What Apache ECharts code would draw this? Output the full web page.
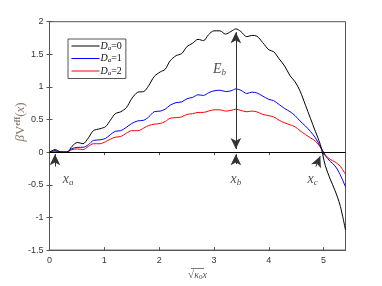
<!DOCTYPE html>
<html><head><meta charset="utf-8">
<script src="https://cdn.jsdelivr.net/npm/echarts@6/dist/echarts.min.js"></script>
<style>html,body{margin:0;padding:0;background:#fff}#c{width:382px;height:286px}</style>
</head><body><div id="c"></div>
<script>
const xs = [0,0.10,0.20,0.32,0.41,0.51,0.61,0.71,0.80,0.92,1.02,1.11,1.20,1.30,1.40,1.50,1.61,1.72,1.81,1.91,2.02,2.11,2.20,2.31,2.41,2.51,2.61,2.71,2.81,2.90,3.00,3.11,3.21,3.31,3.40,3.49,3.60,3.69,3.78,3.89,4.00,4.09,4.19,4.29,4.39,4.48,4.57,4.67,4.76,4.85,4.94,5.03,5.12,5.21,5.30,5.40];
const yD0 = [0,0.04,0.005,0,0.09,0.15,0.13,0.22,0.33,0.36,0.39,0.49,0.59,0.62,0.68,0.82,0.92,0.93,1.02,1.16,1.23,1.27,1.40,1.48,1.51,1.62,1.67,1.73,1.71,1.80,1.86,1.86,1.81,1.85,1.89,1.85,1.77,1.79,1.78,1.68,1.57,1.54,1.43,1.32,1.17,1.08,0.94,0.72,0.52,0.32,0.12,-0.20,-0.41,-0.59,-0.81,-1.19];
const yD1 = [0,0.025,0.005,0.005,0.055,0.075,0.075,0.115,0.18,0.19,0.21,0.27,0.32,0.33,0.38,0.44,0.48,0.49,0.54,0.62,0.63,0.66,0.72,0.76,0.77,0.82,0.84,0.88,0.87,0.91,0.94,0.95,0.93,0.94,0.97,0.95,0.90,0.92,0.91,0.86,0.81,0.79,0.73,0.67,0.62,0.56,0.48,0.40,0.32,0.22,0.09,-0.05,-0.14,-0.21,-0.34,-0.53];
const yD2 = [0,0.015,0,0,0.04,0.05,0.04,0.09,0.13,0.13,0.16,0.20,0.23,0.24,0.29,0.33,0.33,0.37,0.41,0.43,0.44,0.47,0.52,0.53,0.54,0.58,0.59,0.61,0.61,0.63,0.65,0.65,0.63,0.64,0.66,0.64,0.62,0.63,0.62,0.58,0.56,0.54,0.49,0.45,0.42,0.39,0.33,0.27,0.22,0.17,0.08,-0.04,-0.11,-0.15,-0.21,-0.34];
const seriesNames = ['Da=0','Da=1','Da=2'];
const seriesColors = ['#000000','#0000ff','#ff0000'];
const xTicks = [0,1,2,3,4,5];
const yTicks = [-1.5,-1,-0.5,0,0.5,1,1.5,2];

const chart = echarts.init(document.getElementById('c'));
const pair = ys => xs.map((x,i)=>[x,ys[i]]);
const serif = '"Liberation Serif","DejaVu Serif",serif';
function arrow(from, to, sym){
  return [{coord:from, symbol: sym[0]}, {coord:to, symbol: sym[1]}];
}
const legendFmt = n => '{d|D}{s|a}{t|=' + n.slice(3) + '}';
chart.setOption({
  animation:false,
  color: seriesColors,
  grid:{left:49.5, right:36.5, top:21.7, bottom:31.7, show:true, borderColor:'#555', borderWidth:1},
  legend:{
    orient:'vertical', left:68, top:39, itemWidth:28, itemHeight:10, itemGap:2,
    itemStyle:{opacity:0}, lineStyle:{width:1},
    padding:[2,4,2,3], borderColor:'#555', borderWidth:1, backgroundColor:'#fff',
    data: seriesNames,
    formatter: legendFmt,
    textStyle:{padding:[0,0,0,-4], rich:{
      d:{fontFamily:serif, fontStyle:'italic', fontSize:10, color:'#111'},
      s:{fontFamily:serif, fontStyle:'italic', fontSize:7, color:'#111', padding:[4,0,0,0]},
      t:{fontFamily:serif, fontSize:10, color:'#111'}
    }}
  },
  xAxis:[{
    type:'value', min:0, max:5.4, interval:1,
    axisLine:{show:true, onZero:false, lineStyle:{color:'#555'}},
    axisTick:{inside:true, length:3, lineStyle:{color:'#555'}},
    splitLine:{show:false},
    axisLabel:{color:'#333', fontSize:9, fontFamily:'"Liberation Sans",Arial', margin:6,
      formatter: v => xTicks.includes(v) ? String(v) : ''},
    name:'{r|√}{k|κ}{z|0}{k|x}', nameLocation:'middle', nameGap:18,
    nameTextStyle:{rich:{
      r:{fontFamily:serif, fontSize:11, color:'#555'},
      k:{fontFamily:serif, fontStyle:'italic', fontSize:10, color:'#555'},
      z:{fontFamily:serif, fontSize:7, color:'#555', padding:[4,0,0,0]}
    }}
  },{
    type:'value', min:0, max:5.4, interval:1, position:'top',
    axisLine:{show:true, lineStyle:{color:'#555'}},
    axisTick:{inside:true, length:3, lineStyle:{color:'#555'}},
    axisLabel:{show:false}, splitLine:{show:false}
  }],
  yAxis:[{
    type:'value', min:-1.5, max:2, interval:0.5,
    axisLine:{show:true, onZero:false, lineStyle:{color:'#555'}},
    axisTick:{inside:true, length:3, lineStyle:{color:'#555'}},
    splitLine:{show:false},
    axisLabel:{color:'#333', fontSize:9, fontFamily:'"Liberation Sans",Arial', margin:6,
      formatter: v => yTicks.includes(v) ? String(v) : ''}
  },{
    type:'value', min:-1.5, max:2, interval:0.5, position:'right',
    axisLine:{show:true, lineStyle:{color:'#555'}},
    axisTick:{inside:true, length:3, lineStyle:{color:'#555'}},
    axisLabel:{show:false}, splitLine:{show:false}
  }],
  graphic:[{
    type:'text', x:21, y:122, rotation:Math.PI/2,
    style:{text:'{b|β}{v|V}{e|eff}{p|(}{x|x}{p|)}', align:'center', verticalAlign:'middle',
      rich:{b:{fontFamily:serif, fontStyle:'italic', fontSize:13, fill:'#8a7a6a'},
            v:{fontFamily:serif, fontSize:13, fill:'#8a7a6a'},
            e:{fontFamily:serif, fontWeight:'bold', fontSize:8, fill:'#8a7a6a', padding:[0,0,7,0]},
            p:{fontFamily:serif, fontSize:13, fill:'#8a7a6a'},
            x:{fontFamily:serif, fontStyle:'italic', fontSize:13, fill:'#8a7a6a'}}}
  },{
    type:'line', shape:{x1:191, y1:268.5, x2:204, y2:268.5}, style:{stroke:'#555', lineWidth:0.8}
  }],
  series:[
    {name:seriesNames[0], type:'line', data:pair(yD0), symbol:'none', smooth:0.3, lineStyle:{color:seriesColors[0], width:1}, itemStyle:{color:seriesColors[0]}, z:5,
     markLine:{silent:true, symbol:'none', label:{show:false}, lineStyle:{color:'#000', width:1, type:'solid'},
       data:[[{coord:[0,0]},{coord:[5.4,0]}]]}},
    {name:seriesNames[1], type:'line', data:pair(yD1), symbol:'none', smooth:0.3, lineStyle:{color:seriesColors[1], width:1}, itemStyle:{color:seriesColors[1]}, z:4},
    {name:seriesNames[2], type:'line', data:pair(yD2), symbol:'none', smooth:0.3, lineStyle:{color:seriesColors[2], width:1}, itemStyle:{color:seriesColors[2]}, z:3},
    {type:'scatter', data:[], silent:true,
     markLine:{silent:true, symbolSize:[8,11], label:{show:false}, lineStyle:{color:'#333', width:1, type:'solid'},
       data:[
         arrow([3.4,0.05],[3.4,1.84],['arrow','arrow']),
         arrow([0.1,-0.22],[0.1,-0.03],['none','arrow']),
         arrow([3.4,-0.18],[3.4,-0.03],['none','arrow']),
         arrow([4.86,-0.22],[4.94,-0.06],['none','arrow'])
       ]}},
    {type:'scatter', symbolSize:0, silent:true, z:10,
     data:[[0.34,-0.42,'x','a'],[3.4,-0.42,'x','b'],[4.8,-0.42,'x','c'],[3.1,1.27,'E','b']],
     label:{show:true, position:'inside',
       formatter: p => '{m|' + p.data[2] + '}{s|' + p.data[3] + '}',
       rich:{m:{fontFamily:serif, fontStyle:'italic', fontSize:14, color:'#222'},
             s:{fontFamily:serif, fontStyle:'italic', fontSize:9, color:'#222', padding:[6,0,0,0]}}}}
  ]
});
</script></body></html>
